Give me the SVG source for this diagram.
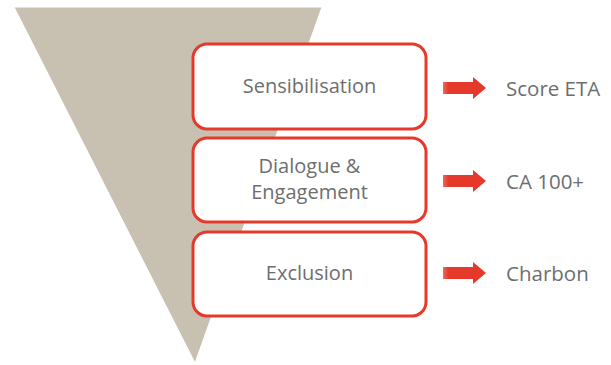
<svg xmlns="http://www.w3.org/2000/svg" width="611" height="365" viewBox="0 0 611 365">
<style>
.box{fill:#fff;stroke:#e53a2b;stroke-width:3}
.t{font-family:"Open Sans","Noto Sans",sans-serif;font-size:20px;fill:#6e6e6e;text-anchor:middle}
.l{font-family:"Open Sans","Noto Sans",sans-serif;font-size:20.5px;fill:#6e6e6e}
</style>
<defs>
<linearGradient id="g" x1="0" x2="1" y1="0" y2="0">
<stop offset="0" stop-color="#ee6a5c"/>
<stop offset="0.12" stop-color="#e53a2b"/>
<stop offset="1" stop-color="#e53a2b"/>
</linearGradient>
<path id="a" d="M0,-6 H30 V-11 L43,0 L30,11 V6 H0 Z" fill="url(#g)"/>
</defs>
<g id="funnel"><polygon points="14,7 322,7 195,363" fill="#c8c0b0" stroke="#fff" stroke-width="1"/></g>
<g id="n1"><rect class="box" x="193" y="44" width="233" height="85" rx="14"/><text class="t" x="309.5" y="93">Sensibilisation</text></g>
<g id="n2"><rect class="box" x="193" y="138" width="233" height="84" rx="14"/><text class="t" x="309.5" y="173">Dialogue &amp;</text><text class="t" x="309.5" y="199">Engagement</text></g>
<g id="n3"><rect class="box" x="193" y="232" width="233" height="84" rx="14"/><text class="t" x="309.5" y="280">Exclusion</text></g>
<g id="connectors">
<use href="#a" x="443" y="88"/>
<use href="#a" x="443" y="181"/>
<use href="#a" x="443" y="273"/>
</g>
<g id="labels">
<text class="l" x="506" y="96">Score ETA</text>
<text class="l" x="506" y="189">CA 100+</text>
<text class="l" x="506" y="281">Charbon</text>
</g>
</svg>
